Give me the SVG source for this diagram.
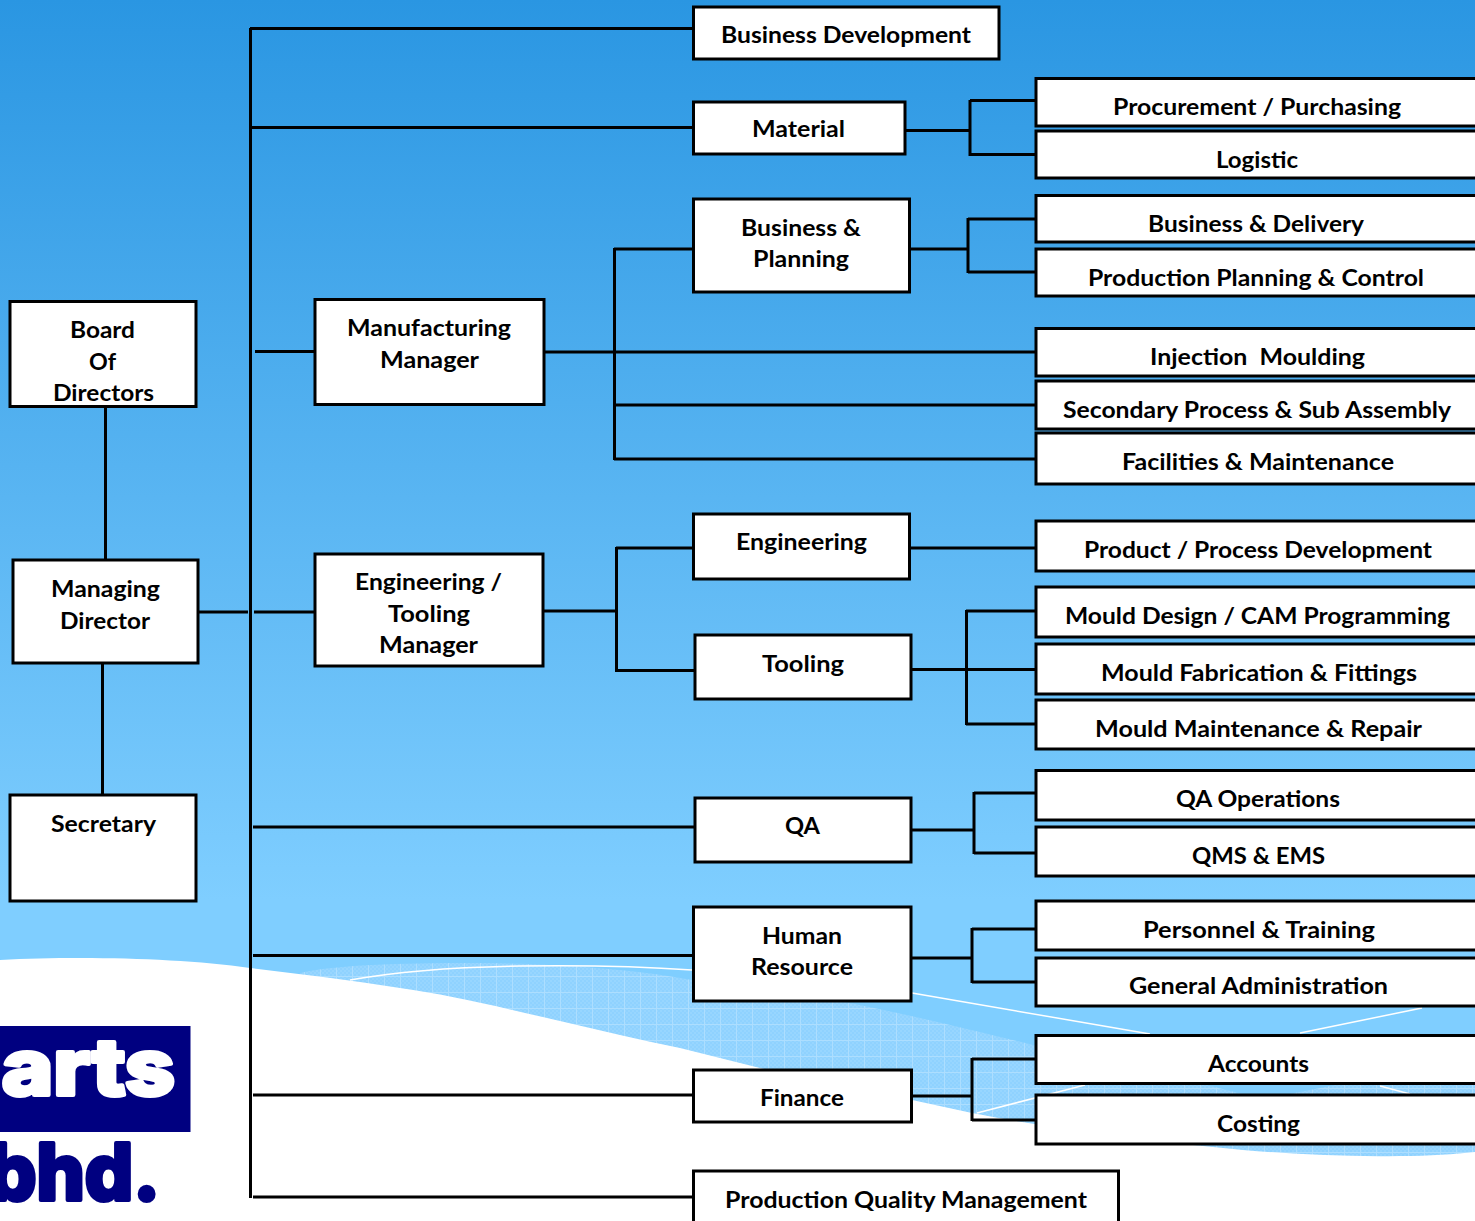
<svg xmlns="http://www.w3.org/2000/svg" width="1475" height="1221" viewBox="0 0 1475 1221">
<style>
.b{fill:#fff;stroke:#000;stroke-width:3}
.c{fill:none;stroke:#000;stroke-width:3}
.t{font-family:Lato,"Open Sans",sans-serif;font-weight:700;font-size:23px;fill:#000;text-anchor:middle}
.w{fill:none;stroke:#fff;stroke-width:1.5}
.l{font-family:Inter,"DejaVu Sans",sans-serif;font-weight:800;font-size:78px;stroke-width:4;stroke-linejoin:round}
</style>
<defs>
<linearGradient id="bg" x1="0" y1="0" x2="0" y2="1"><stop offset="0" stop-color="#2a96e2"/><stop offset="1" stop-color="#7fceff"/></linearGradient>
<pattern id="fine" width="4" height="4" patternUnits="userSpaceOnUse"><rect width="4" height="4" fill="#98d6ff"/><rect width="2" height="2" fill="#8fd2ff"/><rect x="2" y="2" width="2" height="2" fill="#8fd2ff"/></pattern>
<pattern id="dots" width="16" height="16" patternUnits="userSpaceOnUse"><rect width="16" height="16" fill="url(#fine)"/><path d="M0 .5H16M.5 0V16" stroke="#addeff" stroke-width="1"/></pattern>
</defs>
<g id="background">
<rect width="1475" height="900" fill="url(#bg)"/>
<rect y="900" width="1475" height="321" fill="#7fceff"/>
<path d="M300 973C335 965 400 963 470 963C560 963 640 970 692 980C750 988 800 995 850 1003C920 1017 980 1032 1033 1045L1207 1085L1250 1096H1280L1330 1086L1475 1060V1160H1000L300 980Z" fill="url(#dots)"/>
<path d="M0 960C80 956 180 958 250 968C300 974 350 980 400 988C450 995 500 1007 560 1021C600 1030 640 1040 680 1048L760 1068C810 1079 860 1089 912 1100L972 1113C1040 1126 1130 1139 1213 1147C1280 1154 1340 1157 1400 1156C1430 1156 1455 1154 1475 1152V1221H0Z" fill="#fff"/>
<path class="w" d="M350 980C400 971 450 967 520 966C590 965 650 967 692 970"/>
<path class="w" d="M912 993L1150 1034M1300 1033L1422 1008M977 1113L1085 1085M1380 1086L1410 1094"/>
</g>
<g id="logo">
<rect x="-2" y="1026" width="192.500" height="106" fill="#000080"/>
<text class="l" x="-55" y="1095" textLength="230" lengthAdjust="spacingAndGlyphs" fill="#fff" stroke="#fff">parts</text>
<text class="l" x="-12" y="1200" textLength="172" lengthAdjust="spacingAndGlyphs" fill="#000080" stroke="#000080">bhd.</text>
</g>
<g id="connectors" class="c">
<path d="M250.500 28V1198M250 28.500H693M250 127.500H693M255 351.500H315M198 612H248M254 612H315M253 827H695M253 955.500H693M253 1095H693M253 1197H693"/>
<path d="M105.500 407V560M102.500 663V795"/>
<path d="M905 130.500H970M970 100V156M970 100.500H1036M970 154.500H1036"/>
<path d="M910 249H968M968 218V273M968 219H1036M968 272H1036"/>
<path d="M544 352H1036M614.500 248V460M614 249H693M614 405H1036M614 459H1036"/>
<path d="M543 611H616M616.500 547V672M616 548H693M616 670.500H695M910 548H1036"/>
<path d="M911 669.500H1036M966.500 610V725M966 611H1036M966 724H1036"/>
<path d="M911 830H974M974 792V854M974 793H1036M974 853H1036"/>
<path d="M911 958H972M972 928V983M972 929H1036M972 982H1036"/>
<path d="M911 1096H972M972 1058V1121M972 1059H1036M972 1120H1036"/>
</g>
<g id="board"><rect class="b" x="10" y="301.500" width="186" height="105"/><text class="t" x="102.500" y="338" textLength="65" lengthAdjust="spacingAndGlyphs">Board</text><text class="t" x="102.500" y="370" textLength="27" lengthAdjust="spacingAndGlyphs">Of</text><text class="t" x="103.500" y="401" textLength="101" lengthAdjust="spacingAndGlyphs">Directors</text></g>
<g id="md"><rect class="b" x="13" y="560" width="185" height="103"/><text class="t" x="105.500" y="597" textLength="109" lengthAdjust="spacingAndGlyphs">Managing</text><text class="t" x="105" y="629" textLength="90" lengthAdjust="spacingAndGlyphs">Director</text></g>
<g id="secretary"><rect class="b" x="10" y="795" width="186" height="106"/><text class="t" x="103.500" y="832" textLength="105" lengthAdjust="spacingAndGlyphs">Secretary</text></g>
<g id="mfg"><rect class="b" x="315" y="299.500" width="229" height="105"/><text class="t" x="429" y="336" textLength="164" lengthAdjust="spacingAndGlyphs">Manufacturing</text><text class="t" x="429.500" y="368" textLength="99" lengthAdjust="spacingAndGlyphs">Manager</text></g>
<g id="engtool"><rect class="b" x="315" y="554" width="228" height="112"/><text class="t" x="428.500" y="590" textLength="147" lengthAdjust="spacingAndGlyphs">Engineering /</text><text class="t" x="429" y="622" textLength="82" lengthAdjust="spacingAndGlyphs">Tooling</text><text class="t" x="428.500" y="653" textLength="99" lengthAdjust="spacingAndGlyphs">Manager</text></g>
<g id="bizdev"><rect class="b" x="693.500" y="7" width="305.500" height="52"/><text class="t" x="846" y="43" textLength="250" lengthAdjust="spacingAndGlyphs">Business Development</text></g>
<g id="material"><rect class="b" x="693.500" y="102" width="211.500" height="52"/><text class="t" x="798.500" y="137" textLength="93" lengthAdjust="spacingAndGlyphs">Material</text></g>
<g id="bizplan"><rect class="b" x="693.500" y="199" width="216" height="93"/><text class="t" x="801" y="236" textLength="120" lengthAdjust="spacingAndGlyphs">Business &amp;</text><text class="t" x="801" y="267" textLength="96" lengthAdjust="spacingAndGlyphs">Planning</text></g>
<g id="engineering"><rect class="b" x="693.500" y="514" width="216" height="65"/><text class="t" x="801.500" y="550" textLength="131" lengthAdjust="spacingAndGlyphs">Engineering</text></g>
<g id="tooling"><rect class="b" x="695" y="635" width="216" height="64"/><text class="t" x="803" y="672" textLength="82" lengthAdjust="spacingAndGlyphs">Tooling</text></g>
<g id="qa"><rect class="b" x="695" y="798" width="216" height="64"/><text class="t" x="802.500" y="834" textLength="35" lengthAdjust="spacingAndGlyphs">QA</text></g>
<g id="hr"><rect class="b" x="693.500" y="907" width="217.500" height="94"/><text class="t" x="802" y="944" textLength="80" lengthAdjust="spacingAndGlyphs">Human</text><text class="t" x="802" y="975" textLength="102" lengthAdjust="spacingAndGlyphs">Resource</text></g>
<g id="finance"><rect class="b" x="693.500" y="1070" width="218" height="52"/><text class="t" x="802" y="1106" textLength="84" lengthAdjust="spacingAndGlyphs">Finance</text></g>
<g id="pqm"><rect class="b" x="693.500" y="1171" width="425" height="54"/><text class="t" x="906" y="1208" textLength="362" lengthAdjust="spacingAndGlyphs">Production Quality Management</text></g>
<g id="procurement"><rect class="b" x="1036" y="78.500" width="444" height="47.500"/><text class="t" x="1257" y="115" textLength="288" lengthAdjust="spacingAndGlyphs">Procurement / Purchasing</text></g>
<g id="logistic"><rect class="b" x="1036" y="131" width="444" height="47"/><text class="t" x="1257" y="168" textLength="82" lengthAdjust="spacingAndGlyphs">Logistic</text></g>
<g id="bizdelivery"><rect class="b" x="1036" y="195.500" width="444" height="46.500"/><text class="t" x="1256" y="232" textLength="216" lengthAdjust="spacingAndGlyphs">Business &amp; Delivery</text></g>
<g id="ppc"><rect class="b" x="1036" y="249" width="444" height="47"/><text class="t" x="1256" y="286" textLength="336" lengthAdjust="spacingAndGlyphs">Production Planning &amp; Control</text></g>
<g id="injection"><rect class="b" x="1036" y="328.500" width="444" height="47.500"/><text class="t" x="1257.500" y="365" textLength="215" lengthAdjust="spacingAndGlyphs" xml:space="preserve">Injection  Moulding</text></g>
<g id="secondary"><rect class="b" x="1036" y="381" width="444" height="48"/><text class="t" x="1257" y="418" textLength="388" lengthAdjust="spacingAndGlyphs">Secondary Process &amp; Sub Assembly</text></g>
<g id="facilities"><rect class="b" x="1036" y="433" width="444" height="51"/><text class="t" x="1258" y="470" textLength="272" lengthAdjust="spacingAndGlyphs">Facilities &amp; Maintenance</text></g>
<g id="product"><rect class="b" x="1036" y="521" width="444" height="50"/><text class="t" x="1258" y="558" textLength="348" lengthAdjust="spacingAndGlyphs">Product / Process Development</text></g>
<g id="moulddesign"><rect class="b" x="1036" y="587" width="444" height="50"/><text class="t" x="1257.500" y="624" textLength="385" lengthAdjust="spacingAndGlyphs">Mould Design / CAM Programming</text></g>
<g id="mouldfab"><rect class="b" x="1036" y="644" width="444" height="50"/><text class="t" x="1259" y="681" textLength="316" lengthAdjust="spacingAndGlyphs">Mould Fabrication &amp; Fittings</text></g>
<g id="mouldmaint"><rect class="b" x="1036" y="700" width="444" height="49"/><text class="t" x="1258.500" y="737" textLength="327" lengthAdjust="spacingAndGlyphs">Mould Maintenance &amp; Repair</text></g>
<g id="qaops"><rect class="b" x="1036" y="770.500" width="444" height="49.500"/><text class="t" x="1258" y="807" textLength="164" lengthAdjust="spacingAndGlyphs">QA Operations</text></g>
<g id="qms"><rect class="b" x="1036" y="827" width="444" height="49"/><text class="t" x="1258.500" y="864" textLength="133" lengthAdjust="spacingAndGlyphs">QMS &amp; EMS</text></g>
<g id="personnel"><rect class="b" x="1036" y="901" width="444" height="49"/><text class="t" x="1259" y="938" textLength="232" lengthAdjust="spacingAndGlyphs">Personnel &amp; Training</text></g>
<g id="genadmin"><rect class="b" x="1036" y="958" width="444" height="48"/><text class="t" x="1258.500" y="994" textLength="259" lengthAdjust="spacingAndGlyphs">General Administration</text></g>
<g id="accounts"><rect class="b" x="1036" y="1035.500" width="444" height="48"/><text class="t" x="1258.500" y="1072" textLength="101" lengthAdjust="spacingAndGlyphs">Accounts</text></g>
<g id="costing"><rect class="b" x="1036" y="1095" width="444" height="49"/><text class="t" x="1258.500" y="1132" textLength="83" lengthAdjust="spacingAndGlyphs">Costing</text></g>
</svg>
